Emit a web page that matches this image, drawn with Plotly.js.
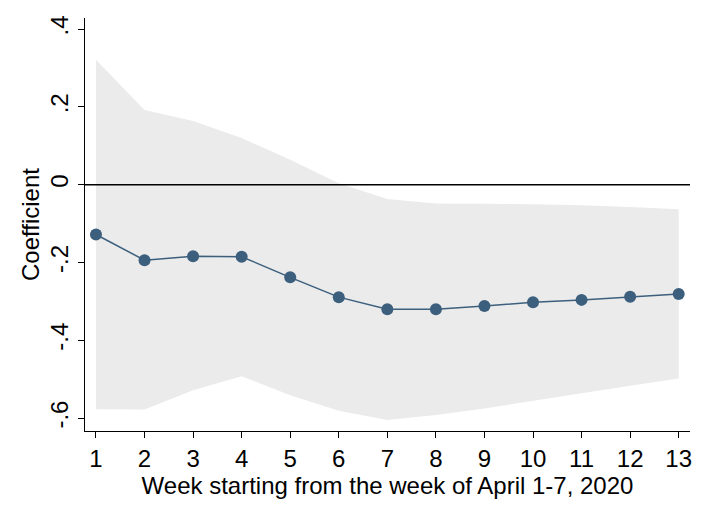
<!DOCTYPE html>
<html>
<head>
<meta charset="utf-8">
<script src="https://cdn.plot.ly/plotly-3.0.1.min.js"></script>
<style>
  html, body { margin: 0; padding: 0; background: #fff; }
  #plot { width: 709px; height: 516px; }
</style>
</head>
<body>
<div id="plot"></div>
<script>
  "use strict";

  // weeks since April 1-7, 2020
  const weeks = [1, 2, 3, 4, 5, 6, 7, 8, 9, 10, 11, 12, 13];
  // point estimates
  const coef = [-0.128, -0.194, -0.184, -0.185, -0.238, -0.289, -0.320, -0.320, -0.312, -0.302, -0.296, -0.288, -0.281];
  // confidence interval bounds
  const ciUpper = [0.321, 0.192, 0.164, 0.120, 0.064, 0.004, -0.037, -0.048, -0.049, -0.050, -0.053, -0.057, -0.063];
  const ciLower = [-0.577, -0.578, -0.528, -0.492, -0.541, -0.581, -0.605, -0.592, -0.575, -0.555, -0.536, -0.517, -0.498];

  const yTicks = [-0.6, -0.4, -0.2, 0, 0.2, 0.4];
  const yTickText = ['-.6', '-.4', '-.2', '0', '.2', '.4'];

  const navy = '#3c5f7d';
  const font = 'Liberation Sans, Arial, sans-serif';
  const fs = 24;

  let traces = [
    { // lower edge of the band
      x: weeks, y: ciLower,
      type: 'scatter', mode: 'lines',
      line: {width: 0, color: 'rgba(0,0,0,0)'},
      hoverinfo: 'skip', showlegend: false,
    },
    { // upper edge, filled down to the lower edge
      x: weeks, y: ciUpper,
      type: 'scatter', mode: 'lines',
      line: {width: 0, color: 'rgba(0,0,0,0)'},
      fill: 'tonexty', fillcolor: '#ebebeb',
      hoverinfo: 'skip', showlegend: false,
    },
    {
      x: weeks, y: coef,
      type: 'scatter', mode: 'lines+markers',
      line: {color: navy, width: 1.5},
      marker: {color: navy, size: 12},
      showlegend: false,
    },
  ];

  let layout = {
    width: 709,
    height: 516,
    margin: {l: 85, r: 19, t: 18, b: 85, pad: 0},
    paper_bgcolor: '#fff',
    plot_bgcolor: '#fff',
    font: {family: font, size: fs, color: '#000'},
    xaxis: {
      range: [0.774, 13.233],
      tickvals: weeks,
      ticks: 'outside', ticklen: 6, tickwidth: 1, tickcolor: '#000',
      showline: true, linecolor: '#000', linewidth: 1,
      showgrid: false, zeroline: false,
      tickfont: {size: fs},
      title: {text: 'Week starting from the week of April 1-7, 2020', font: {size: fs}, standoff: 0},
    },
    yaxis: {
      range: [-0.633, 0.4285],
      tickvals: yTicks,
      ticktext: yTickText,
      tickangle: -90,
      ticks: 'outside', ticklen: 6, tickwidth: 1, tickcolor: '#000',
      showline: true, linecolor: '#000', linewidth: 1,
      showgrid: false, zeroline: false,
      tickfont: {size: fs},
      title: {text: 'Coefficient', font: {size: fs}, standoff: 0},
    },
    // zero reference line drawn above the band
    shapes: [{
      type: 'line', layer: 'above',
      xref: 'paper', x0: 0, x1: 1,
      yref: 'y', y0: 0, y1: 0,
      line: {color: '#000', width: 1.5},
    }],
  };

  Plotly.newPlot('plot', traces, layout, {displayModeBar: false, staticPlot: true});
</script>
</body>
</html>
